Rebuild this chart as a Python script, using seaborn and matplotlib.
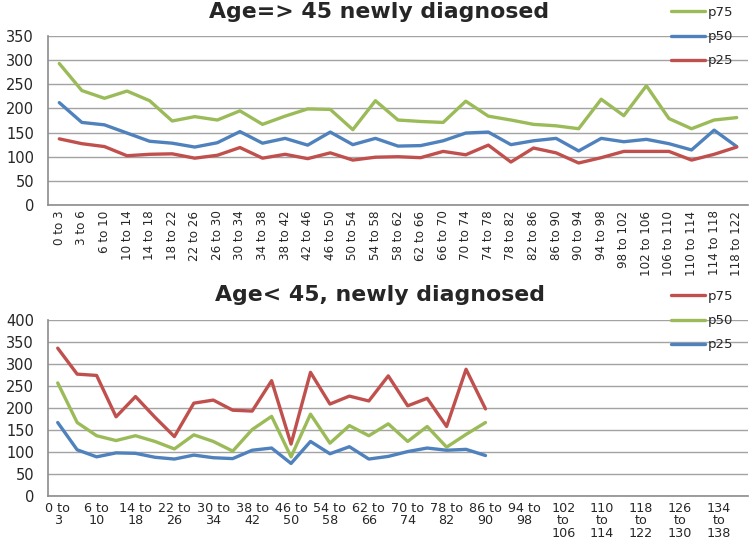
import numpy as np
import matplotlib
matplotlib.use("Agg")
import matplotlib.pyplot as plt
import seaborn as sns

GREEN = "#9BBB59"
BLUE = "#4F81BD"
RED = "#C0504D"
GRID = "#A3A3A3"

# ---- top chart: age >= 45 ----
top_cats = ["0 to 3", "3 to 6", "6 to 10", "10 to 14", "14 to 18", "18 to 22", "22 to 26",
            "26 to 30", "30 to 34", "34 to 38", "38 to 42", "42 to 46", "46 to 50", "50 to 54",
            "54 to 58", "58 to 62", "62 to 66", "66 to 70", "70 to 74", "74 to 78", "78 to 82",
            "82 to 86", "86 to 90", "90 to 94", "94 to 98", "98 to 102", "102 to 106",
            "106 to 110", "110 to 114", "114 to 118", "118 to 122"]
top_p75 = [293, 237, 221, 236, 216, 174, 183, 176, 195, 167, 184, 199, 198, 156, 216, 176,
           173, 171, 215, 184, 176, 167, 164, 158, 219, 185, 247, 179, 158, 176, 181]
top_p50 = [212, 171, 166, 149, 132, 128, 120, 129, 152, 128, 138, 124, 151, 125, 138, 122,
           123, 133, 149, 151, 125, 133, 138, 112, 138, 131, 136, 127, 114, 155, 121]
top_p25 = [137, 127, 121, 102, 105, 106, 97, 103, 119, 97, 105, 96, 108, 93, 99, 100,
           98, 111, 104, 124, 89, 118, 108, 87, 98, 111, 111, 111, 93, 105, 120]

# ---- bottom chart: age < 45 ----
bot_cats = ["0 to 3", "3 to 6", "6 to 10", "10 to 14", "14 to 18", "18 to 22", "22 to 26",
            "26 to 30", "30 to 34", "34 to 38", "38 to 42", "42 to 46", "46 to 50", "50 to 54",
            "54 to 58", "58 to 62", "62 to 66", "66 to 70", "70 to 74", "74 to 78", "78 to 82",
            "82 to 86", "86 to 90", "90 to 94", "94 to 98", "98 to 102", "102 to 106",
            "106 to 110", "110 to 114", "114 to 118", "118 to 122", "122 to 126", "126 to 130",
            "130 to 134", "134 to 138", "138 to 142"]
bot_p75 = [336, 277, 274, 180, 226, 179, 135, 211, 218, 195, 193, 262, 118, 281, 209, 227,
           216, 273, 205, 222, 158, 288, 198]
bot_p50 = [257, 167, 137, 126, 137, 124, 107, 139, 124, 102, 151, 181, 89, 186, 120, 160,
           137, 164, 124, 158, 111, 140, 167]
bot_p25 = [167, 105, 89, 98, 97, 88, 84, 93, 87, 85, 104, 109, 74, 124, 96, 112,
           84, 90, 101, 109, 104, 106, 92]

sns.set_style("white")
plt.rcParams["font.family"] = ["DejaVu Sans"]

W, H = 751, 539
fig = plt.figure(figsize=(W / 100, H / 100), dpi=100)


def fx(px):
    return px / W


def fy(px):
    return 1 - px / H


def wrap_label(s):
    lo, hi = s.split(" to ")
    if len(lo) >= 3:
        return lo + "\nto\n" + hi
    return lo + " to\n" + hi


def style_axes(ax, n, ymax):
    ax.set_xlim(-0.5, n - 0.5)
    ax.set_ylim(0, ymax)
    ax.set_yticks(np.arange(0, ymax + 1, 50))
    ax.yaxis.grid(True, color=GRID, lw=1.0)
    ax.set_axisbelow(True)
    for side in ["top", "right"]:
        ax.spines[side].set_visible(False)
    for side in ["left", "bottom"]:
        ax.spines[side].set_color("#8C8C8C")
        ax.spines[side].set_linewidth(1.2)
    ax.set_xticks(np.arange(-0.5, n, 1.0), minor=True)
    ax.tick_params(axis="x", which="minor", length=4, color="#8C8C8C", direction="out")
    ax.tick_params(axis="x", which="major", length=0, pad=4)
    ax.tick_params(axis="y", length=4, color="#8C8C8C", direction="out", labelsize=10.5,
                   pad=6)
    ax.set_xlabel("")
    ax.set_ylabel("")


# top
ax1 = fig.add_axes([fx(48), fy(205), fx(748) - fx(48), fy(36) - fy(205)])
x1 = np.arange(len(top_p75))
sns.lineplot(x=x1, y=top_p75, color=GREEN, lw=2.4, label="p75", ax=ax1)
sns.lineplot(x=x1, y=top_p50, color=BLUE, lw=2.4, label="p50", ax=ax1)
sns.lineplot(x=x1, y=top_p25, color=RED, lw=2.4, label="p25", ax=ax1)
style_axes(ax1, len(top_cats), 350)
ax1.set_xticks(np.arange(len(top_cats)))
ax1.set_xticklabels(top_cats, rotation=90, fontsize=8.6,
                    family=["Liberation Sans Narrow", "DejaVu Sans"])
ax1.legend(loc="upper left", bbox_to_anchor=(fx(671), fy(6)), bbox_transform=fig.transFigure,
           frameon=False, fontsize=9.5, handlelength=2.6, handletextpad=0.2,
           labelspacing=0.85, borderpad=0, borderaxespad=0)
fig.text(fx(379), fy(12), "Age=> 45 newly diagnosed", ha="center", va="center",
         fontsize=15.8, fontweight="bold")

# bottom
ax2 = fig.add_axes([fx(48), fy(496), fx(748) - fx(48), fy(320) - fy(496)])
x2 = np.arange(len(bot_p75))
sns.lineplot(x=x2, y=bot_p75, color=RED, lw=2.4, label="p75", ax=ax2)
sns.lineplot(x=x2, y=bot_p50, color=GREEN, lw=2.4, label="p50", ax=ax2)
sns.lineplot(x=x2, y=bot_p25, color=BLUE, lw=2.4, label="p25", ax=ax2)
style_axes(ax2, len(bot_cats), 400)
ax2.set_xticks(np.arange(0, len(bot_cats), 2))
ax2.set_xticklabels([wrap_label(c) for c in bot_cats[::2]], fontsize=9.2, linespacing=0.95)
ax2.legend(loc="upper left", bbox_to_anchor=(fx(671), fy(290)), bbox_transform=fig.transFigure,
           frameon=False, fontsize=9.5, handlelength=2.6, handletextpad=0.2,
           labelspacing=0.85, borderpad=0, borderaxespad=0)
fig.text(fx(380), fy(295), "Age< 45, newly diagnosed", ha="center", va="center",
         fontsize=15.8, fontweight="bold")

fig.savefig("out.png", dpi=100)
